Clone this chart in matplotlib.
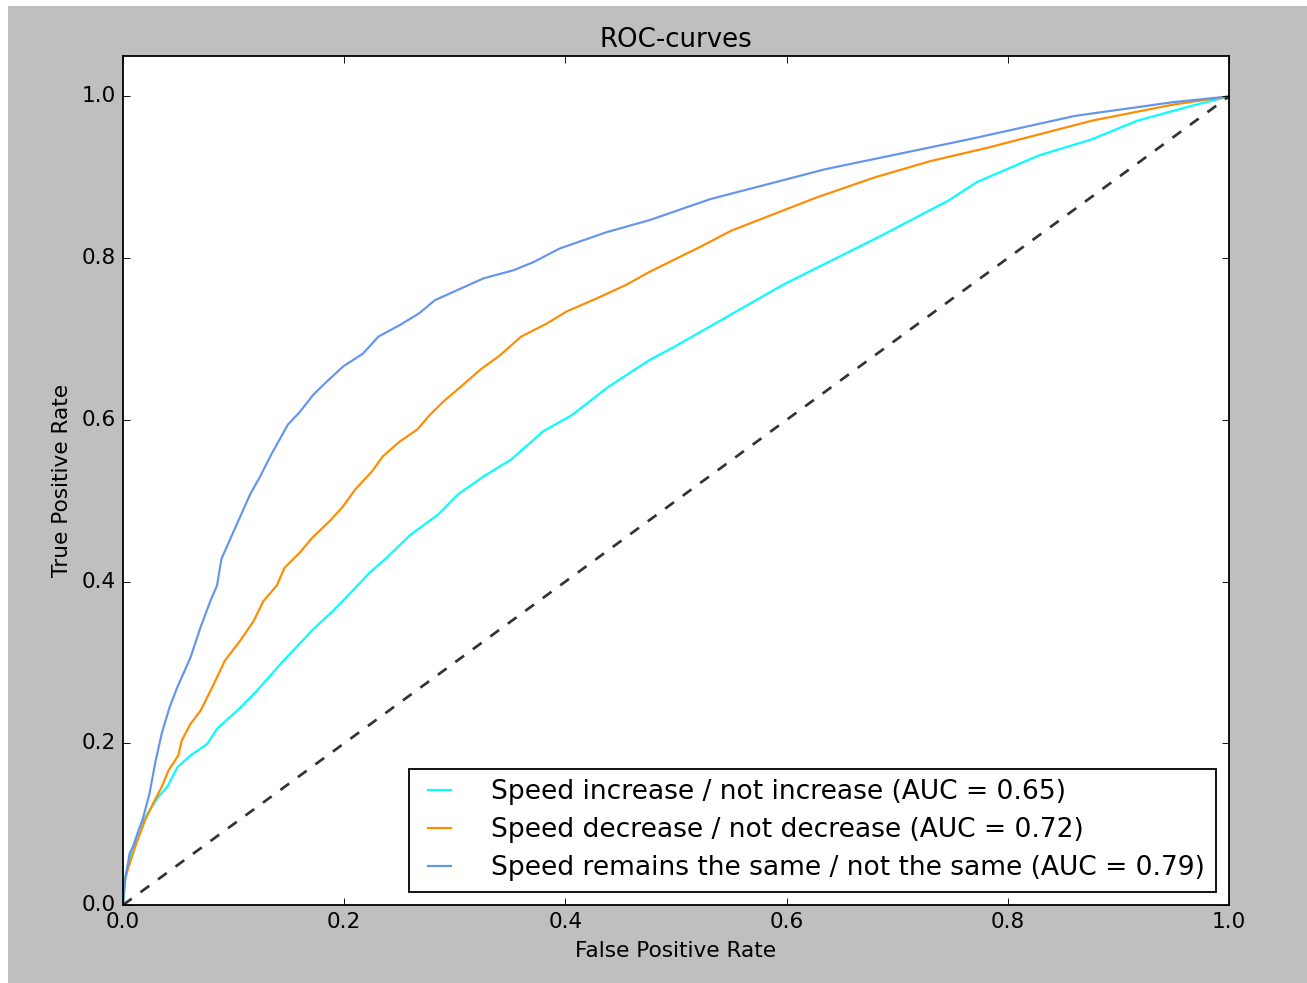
import matplotlib

matplotlib.use("Agg")
import matplotlib.pyplot as plt
from matplotlib.patches import Rectangle

# ROC points (fpr, tpr) per one-vs-rest task
inc_fpr = [0, .002, .008, .015, .024, .032, .04, .049, .061, .076, .085, .106, .121, .145,
           .172, .19, .205, .223, .238, .26, .285, .303, .326, .351, .38, .406, .439, .476,
           .498, .598, .683, .746, .772, .828, .876, .917, .968, 1.0]
inc_tpr = [0, .035, .068, .096, .117, .134, .146, .17, .185, .199, .218, .244, .265, .302,
           .341, .364, .385, .411, .429, .458, .483, .508, .53, .551, .586, .606, .641, .674,
           .69, .768, .826, .871, .894, .927, .947, .97, .989, 1.0]

dec_fpr = [0, 0.0, .005, .012, .02, .027, .035, .041, .05, .053, .061, .07, .082, .092, .106,
           .118, .127, .139, .146, .16, .171, .187, .199, .21, .225, .235, .25, .266, .278, .29,
           .308, .323, .341, .36, .383, .401, .428, .455, .476, .522, .55, .627, .68, .73, .783,
           .876, .95, 1.0]
dec_tpr = [0, .023, .047, .076, .105, .125, .146, .166, .185, .203, .224, .24, .273, .302, .327,
           .351, .376, .395, .417, .436, .454, .475, .493, .514, .536, .555, .573, .588, .607, .623,
           .644, .662, .68, .703, .719, .734, .75, .767, .783, .814, .834, .875, .9, .92, .937,
           .97, .99, 1.0]

same_fpr = [0, .002, .006, .009, .018, .024, .029, .035, .042, .049, .061, .07, .079, .085, .089,
            .1, .115, .124, .134, .149, .16, .172, .184, .199, .217, .231, .25, .268, .282, .308,
            .326, .353, .371, .395, .437, .476, .531, .635, .765, .861, .95, 1.0]
same_tpr = [0, .031, .064, .072, .107, .138, .175, .212, .244, .269, .306, .343, .376, .395, .428,
            .462, .508, .53, .557, .594, .61, .631, .647, .666, .682, .703, .717, .732, .748, .764,
            .775, .785, .795, .812, .832, .847, .873, .91, .947, .976, .993, 1.0]

labels = ["Speed increase / not increase", "Speed decrease / not decrease",
          "Speed remains the same / not the same"]
aucs = [0.65, 0.72, 0.79]
colors = ["aqua", "darkorange", "cornflowerblue"]

plt.style.use("classic")

W, H = 1307, 983
fig = plt.figure(figsize=(W / 130, H / 130), dpi=130, facecolor="white")
fig.add_artist(Rectangle((8 / W, 0), 1 - 8 / W, 1 - 6 / H, transform=fig.transFigure,
                         facecolor="0.75", edgecolor="none", zorder=-10))
ax = fig.add_axes([123 / W, (H - 905) / H, (1229 - 123) / W, (905 - 56) / H])

curves = [(inc_fpr, inc_tpr), (dec_fpr, dec_tpr), (same_fpr, same_tpr)]
for (fpr, tpr), lab, auc, col in zip(curves, labels, aucs, colors):
    ax.plot(fpr, tpr, color=col, lw=1.2, label=f"{lab} (AUC = {auc:.2f})")
ax.plot([0, 1], [0, 1], "--", color="#333333", lw=1.5)

ax.set_xlim(0.0, 1.0)
ax.set_ylim(0.0, 1.05)
ax.set_xlabel("False Positive Rate")
ax.set_ylabel("True Positive Rate")
ax.set_title("ROC-curves")
ax.legend(loc="lower right", handlelength=1.5, handletextpad=1.2, labelspacing=0.45,
          fontsize=14.7)

fig.savefig("out.png", dpi=130, facecolor="white")
